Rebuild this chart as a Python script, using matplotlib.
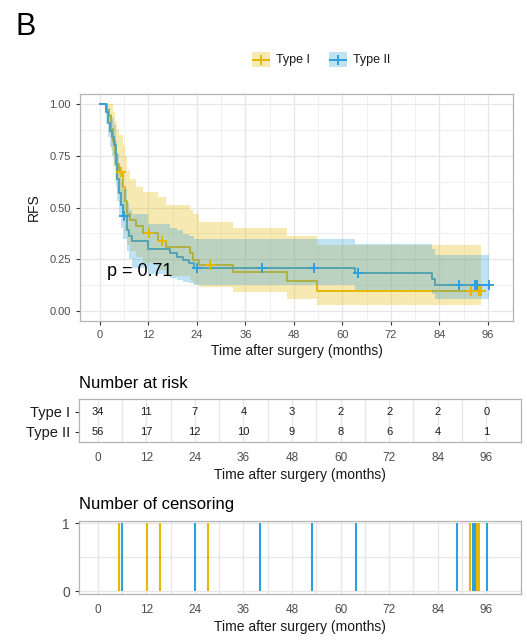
import matplotlib
matplotlib.use("Agg")
import matplotlib.pyplot as plt
import numpy as np
from matplotlib.patches import Rectangle

plt.rcParams['font.family'] = ['Liberation Sans', 'DejaVu Sans']

# ---------------- data ----------------
groups = ["Type I", "Type II"]
colors = ["#E7B800", "#2E9FDF"]

# Type I KM steps
t1_time = [0, 1.7, 2.2, 2.7, 3.2, 3.8, 4.3, 4.8, 5.8, 6.2, 6.8, 7.4, 9.0, 10.7,
           14.4, 16.3, 22.3, 23.0, 24.5, 33.0, 46.2, 53.6]
t1_surv = [1, 0.97, 0.94, 0.88, 0.82, 0.76, 0.71, 0.67, 0.60, 0.53, 0.47, 0.44,
           0.41, 0.375, 0.34, 0.31, 0.28, 0.246, 0.222, 0.19, 0.145, 0.097]
t1_upper = [1, 1, 1, 1, 0.96, 0.92, 0.88, 0.85, 0.80, 0.75, 0.68, 0.64, 0.60,
            0.575, 0.55, 0.51, 0.49, 0.47, 0.43, 0.40, 0.36, 0.32]
t1_lower = [1, 0.91, 0.86, 0.78, 0.70, 0.63, 0.57, 0.52, 0.45, 0.38, 0.32, 0.29,
            0.26, 0.23, 0.20, 0.17, 0.15, 0.13, 0.115, 0.093, 0.056, 0.03]
t1_end = 94.3
t1_censor = [5.3, 12.2, 15.4, 27.2, 91.9, 93.8, 94.3]

# Type II KM steps
t2_time = [0, 1.5, 2.0, 2.5, 3.0, 3.5, 4.0, 4.3, 4.8, 5.2, 5.6, 6.6, 7.2, 8.0,
           12.0, 17.3, 19.0, 20.5, 22.0, 23.3, 63.1, 82.2, 83.0]
t2_surv = [1, 0.96, 0.91, 0.87, 0.84, 0.80, 0.71, 0.64, 0.57, 0.51, 0.46, 0.39,
           0.36, 0.34, 0.30, 0.28, 0.26, 0.246, 0.23, 0.206, 0.185, 0.154, 0.124]
t2_upper = [1, 1, 0.98, 0.95, 0.93, 0.90, 0.82, 0.76, 0.70, 0.64, 0.59, 0.52,
            0.49, 0.47, 0.42, 0.40, 0.39, 0.37, 0.36, 0.35, 0.326, 0.30, 0.27]
t2_lower = [1, 0.91, 0.84, 0.79, 0.75, 0.70, 0.60, 0.53, 0.46, 0.40, 0.35, 0.29,
            0.25, 0.21, 0.18, 0.16, 0.15, 0.14, 0.135, 0.125, 0.10, 0.08, 0.06]
t2_end = 96.3
t2_censor = [6.0, 24.0, 40.1, 52.9, 63.9, 88.8, 92.8, 93.3, 96.3]

risk_times = [0, 12, 24, 36, 48, 60, 72, 84, 96]
risk_type1 = [34, 11, 7, 4, 3, 2, 2, 2, 0]
risk_type2 = [56, 17, 12, 10, 9, 8, 6, 4, 1]

p_label = "p = 0.71"
x_ticks = [0, 12, 24, 36, 48, 60, 72, 84, 96]
y_ticks = [0.00, 0.25, 0.50, 0.75, 1.00]

series = [
    (t1_time, t1_surv, t1_lower, t1_upper, t1_end, t1_censor),
    (t2_time, t2_surv, t2_lower, t2_upper, t2_end, t2_censor),
]

# ---------------- figure ----------------
W, H = 527, 642
fig = plt.figure(figsize=(W / 100, H / 100), dpi=100)


def px_axes(left, top, right, bottom):
    return fig.add_axes([left / W, 1 - bottom / H, (right - left) / W, (bottom - top) / H])


GRID = "#e6e6e6"
GRIDMIN = "#f0f0f0"
BORDER = "#b3b3b3"
TICKC = "#4d4d4d"


def style(ax):
    for s in ax.spines.values():
        s.set_color(BORDER)
        s.set_linewidth(0.9)
    ax.tick_params(colors="#333333", labelcolor=TICKC, length=3, width=0.8)
    ax.set_axisbelow(True)


# main KM panel
ax = px_axes(80, 94, 513, 321)
style(ax)
ax.set_xlim(-4.95, 102.2)
ax.set_ylim(-0.048, 1.048)
ax.set_xticks(x_ticks)
ax.set_xticks(np.array(x_ticks[:-1]) + 6, minor=True)
ax.set_yticks(y_ticks)
ax.set_yticks(np.array(y_ticks[:-1]) + 0.125, minor=True)
ax.set_yticklabels([f"{v:.2f}" for v in y_ticks], fontsize=8)
ax.set_xticklabels([str(v) for v in x_ticks], fontsize=8)
ax.tick_params(which="minor", length=0)
ax.grid(True, which="major", color=GRID, lw=0.9)
ax.grid(True, which="minor", color=GRIDMIN, lw=0.7)

for (tt, ss, lo, up, tend, cens), col in zip(series, colors):
    tx = list(tt) + [tend]
    ax.step(tx, list(ss) + [ss[-1]], where="post", color=col, lw=1.4, zorder=2)
for (tt, ss, lo, up, tend, cens), col in zip(series, colors):
    tx = list(tt) + [tend]
    ax.fill_between(tx, list(lo) + [lo[-1]], list(up) + [up[-1]], step="post",
                    color=col, alpha=0.3, lw=0, zorder=3)
for (tt, ss, lo, up, tend, cens), col in zip(series, colors):
    idx = np.searchsorted(np.array(tt), np.array(cens), side="right") - 1
    ax.plot(cens, np.array(ss)[idx], ls="none", marker="+", ms=7, mew=1.4,
            color=col, zorder=4)

ax.text(1.7, 0.19, p_label, fontsize=13, ha="left", va="center", color="black", zorder=5)
ax.set_xlabel("Time after surgery (months)", fontsize=10, color="#1a1a1a", labelpad=3)
ax.set_ylabel("RFS", fontsize=10, color="#1a1a1a", labelpad=6)

# risk table
axr = px_axes(79, 399, 521, 442)
style(axr)
axr.set_xlim(-4.62, 104.6)
axr.set_ylim(-0.5, 1.65)
axr.set_xticks(risk_times)
axr.set_xticks(np.array(risk_times[:-1]) + 6, minor=True)
axr.set_xticklabels([str(v) for v in risk_times], fontsize=8.5)
axr.set_yticks([1, 0])
axr.set_yticklabels(groups, fontsize=10.5, color="#1a1a1a")
axr.tick_params(axis="x", length=0, pad=7)
axr.tick_params(which="minor", length=0)
axr.grid(True, which="major", axis="x", color=GRID, lw=0.9)
axr.grid(True, which="minor", axis="x", color=GRID, lw=0.9)
for row, vals in zip([1, 0], [risk_type1, risk_type2]):
    for t, v in zip(risk_times, vals):
        axr.text(t, row, str(v), ha="center", va="center", fontsize=8, color="#1a1a1a")
axr.set_xlabel("Time after surgery (months)", fontsize=10, color="#1a1a1a", labelpad=3)
fig.text(79 / W, 1 - 384 / H, "Number at risk", fontsize=12, ha="left", va="center")

# censoring plot
axc = px_axes(79, 521, 521, 594)
style(axc)
axc.set_xlim(-4.62, 104.6)
axc.set_ylim(-0.044, 1.037)
axc.set_xticks(risk_times)
axc.set_xticks(np.array(risk_times[:-1]) + 6, minor=True)
axc.set_xticklabels([str(v) for v in risk_times], fontsize=8.5)
axc.set_yticks([0, 1])
axc.set_yticks([0.5], minor=True)
axc.set_yticklabels(["0", "1"], fontsize=10)
axc.tick_params(axis="x", length=0, pad=7)
axc.tick_params(which="minor", length=0)
axc.grid(True, which="major", color=GRID, lw=0.9)
axc.grid(True, which="minor", color=GRID, lw=0.9)
for (tt, ss, lo, up, tend, cens), col in zip(series, colors):
    axc.vlines(cens, 0, np.ones(len(cens)), color=col, lw=1.5, zorder=3)
axc.set_xlabel("Time after surgery (months)", fontsize=10, color="#1a1a1a", labelpad=3)
fig.text(79 / W, 1 - 505 / H, "Number of censoring", fontsize=12, ha="left", va="center")

# legend (manual, top)
axl = fig.add_axes([0, 0, 1, 1], zorder=10)
axl.set_xlim(0, W)
axl.set_ylim(H, 0)
axl.axis("off")
for x0, col, lab in zip([252, 329], colors, groups):
    axl.add_patch(Rectangle((x0, 52), 18, 15, facecolor=col, alpha=0.3, lw=0))
    axl.plot([x0 + 1, x0 + 17], [59.5, 59.5], color=col, lw=1.4)
    axl.plot([x0 + 9], [59.5], marker="+", ms=7, mew=1.4, color=col)
    axl.text(x0 + 24, 60, lab, fontsize=9, ha="left", va="center", color="#1a1a1a")

fig.text(15 / W, 1 - 27 / H, "B", fontsize=22, ha="left", va="center")

fig.savefig("out.png", dpi=100)
